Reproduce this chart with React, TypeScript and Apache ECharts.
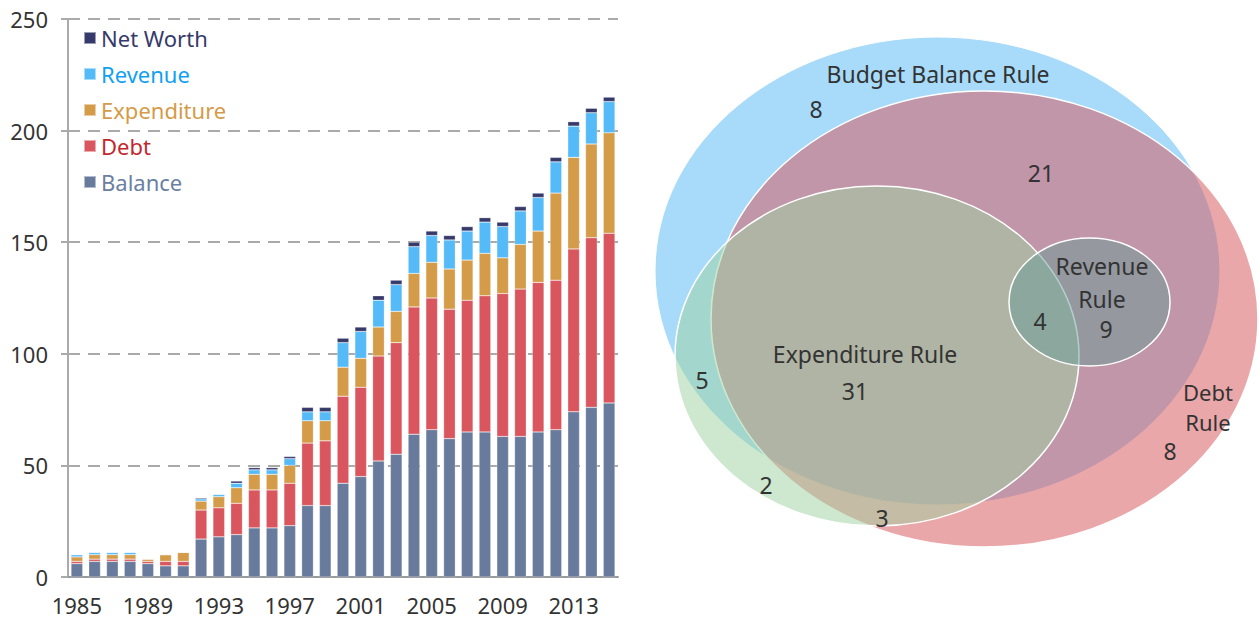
import React, { useEffect, useRef } from "react";
import * as echarts from "echarts";

const years = Array.from({ length: 31 }, (_, i) => String(1985 + i));
const balance = [6, 7, 7, 7, 6, 5, 5, 17, 18, 19, 22, 22, 23, 32, 32, 42, 45, 52, 55, 64, 66, 62, 65, 65, 63, 63, 65, 66, 74, 76, 78];
const debt = [1, 1, 1, 1, 1, 2, 2, 13, 13, 14, 17, 17, 19, 28, 29, 39, 40, 47, 50, 57, 59, 58, 59, 61, 64, 66, 67, 67, 73, 76, 76];
const expenditure = [2, 2, 2, 2, 1, 3, 4, 4, 5, 7, 7, 7, 8, 10, 9, 13, 13, 13, 14, 15, 16, 18, 18, 19, 16, 20, 23, 39, 41, 42, 45];
const revenue = [1, 1, 1, 1, 0, 0, 0, 1, 1, 2, 2, 2, 3, 4, 4, 11, 12, 12, 12, 12, 12, 13, 13, 14, 14, 15, 15, 14, 14, 14, 14];
const netWorth = [0, 0, 0, 0, 0, 0, 0, 0.5, 0, 1, 1, 1, 1, 2, 2, 2, 2, 2, 2, 2, 2, 2, 2, 2, 2, 2, 2, 2, 2, 2, 2];
const yTicks = [0, 50, 100, 150, 200, 250];

const seriesNames = ["Balance", "Debt", "Expenditure", "Revenue", "Net Worth"];
const seriesColors = ["#687b9c", "#d9565e", "#d49b48", "#54baf8", "#363a6a"];
const legendTextColors = ["#6b7fa2", "#c3272e", "#d49b48", "#12a0f2", "#363a6a"];

const vennSetNames = ["Budget Balance Rule", "Debt", "Rule", "Expenditure Rule", "Revenue", "Rule"];
const vennRegionCounts = [8, 21, 8, 31, 5, 2, 3, 4, 9];

const FONT = "Noto Sans";

export default function App() {
  const ref = useRef<HTMLDivElement>(null);
  useEffect(() => {
    if (!ref.current) return;
    const chart = echarts.init(ref.current, undefined, { renderer: "svg" });
    const seriesData = [balance, debt, expenditure, revenue, netWorth];
    const txt = (s: string | number, x: number, y: number, size = 23) => ({
      type: "text",
      x,
      y,
      style: {
        text: String(s),
        fill: "#333333",
        font: `${size}px "${FONT}"`,
        align: "center",
        verticalAlign: "middle",
      },
      z: 10,
    });
    chart.setOption({
      animation: false,
      textStyle: { fontFamily: FONT },
      grid: { left: 68, right: 641, top: 19, bottom: 44, containLabel: false },
      legend: {
        orient: "vertical",
        left: 78,
        top: 21,
        itemWidth: 12,
        itemHeight: 12,
        itemGap: 12,
        icon: "rect",
        data: ["Net Worth", "Revenue", "Expenditure", "Debt", "Balance"].map((n) => ({
          name: n,
          textStyle: { color: legendTextColors[seriesNames.indexOf(n)], fontSize: 22, fontFamily: FONT, lineHeight: 24 },
        })),
      },
      xAxis: {
        type: "category",
        data: years,
        axisTick: { show: false },
        axisLine: { lineStyle: { color: "#9a9a9a", width: 2 } },
        axisLabel: { interval: 3, fontSize: 22, color: "#333", margin: 17, fontFamily: FONT },
      },
      yAxis: {
        type: "value",
        min: yTicks[0],
        max: yTicks[yTicks.length - 1],
        interval: 50,
        axisLine: { show: true, lineStyle: { color: "#aaaaaa", width: 2 } },
        axisTick: { show: true, length: 7, lineStyle: { color: "#aaaaaa", width: 2 } },
        axisLabel: { fontSize: 22, color: "#333", margin: 20, fontFamily: FONT },
        splitLine: { lineStyle: { color: "#aaaaaa", width: 2, type: [12, 8] } },
      },
      series: seriesNames.map((n, i) => ({
        name: n,
        type: "bar",
        stack: "total",
        data: seriesData[i],
        barCategoryGap: "34%",
        itemStyle: { color: seriesColors[i], borderColor: "rgba(255,255,255,0.5)", borderWidth: 0.5 },
      })),
      graphic: [
        { type: "ellipse", shape: { cx: 937.5, cy: 271, rx: 282.5, ry: 234 }, style: { fill: "#a8dbfa", stroke: "#ffffff", lineWidth: 1 }, z: 1 },
        { type: "ellipse", shape: { cx: 984.5, cy: 319, rx: 273.5, ry: 228 }, style: { fill: "rgba(215,89,94,0.53)", stroke: "#ffffff", lineWidth: 1.5 }, z: 2 },
        { type: "ellipse", shape: { cx: 877, cy: 356, rx: 202, ry: 170 }, style: { fill: "rgba(158,210,160,0.5)", stroke: "#ffffff", lineWidth: 1.5 }, z: 3 },
        { type: "ellipse", shape: { cx: 1089.5, cy: 302, rx: 80.5, ry: 64 }, style: { fill: "rgba(105,154,149,0.5)", stroke: "#ffffff", lineWidth: 1.5 }, z: 4 },
        txt(vennSetNames[0], 938, 74),
        txt(vennRegionCounts[0], 816, 109),
        txt(vennRegionCounts[1], 1041, 173),
        txt(vennSetNames[4], 1102, 266),
        txt(vennSetNames[5], 1102, 299),
        txt(vennRegionCounts[7], 1040, 321),
        txt(vennRegionCounts[8], 1106, 329),
        txt(vennSetNames[3], 865, 354),
        txt(vennRegionCounts[3], 855, 391),
        txt(vennRegionCounts[4], 702, 380),
        txt(vennSetNames[1], 1208, 392, 22),
        txt(vennSetNames[2], 1208, 422, 22),
        txt(vennRegionCounts[2], 1170, 451),
        txt(vennRegionCounts[5], 766, 485),
        txt(vennRegionCounts[6], 882, 518),
      ],
    });
    return () => chart.dispose();
  }, []);
  return <div ref={ref} style={{ position: "fixed", left: 0, top: 0, width: 1259, height: 621, background: "#fff" }} />;
}
